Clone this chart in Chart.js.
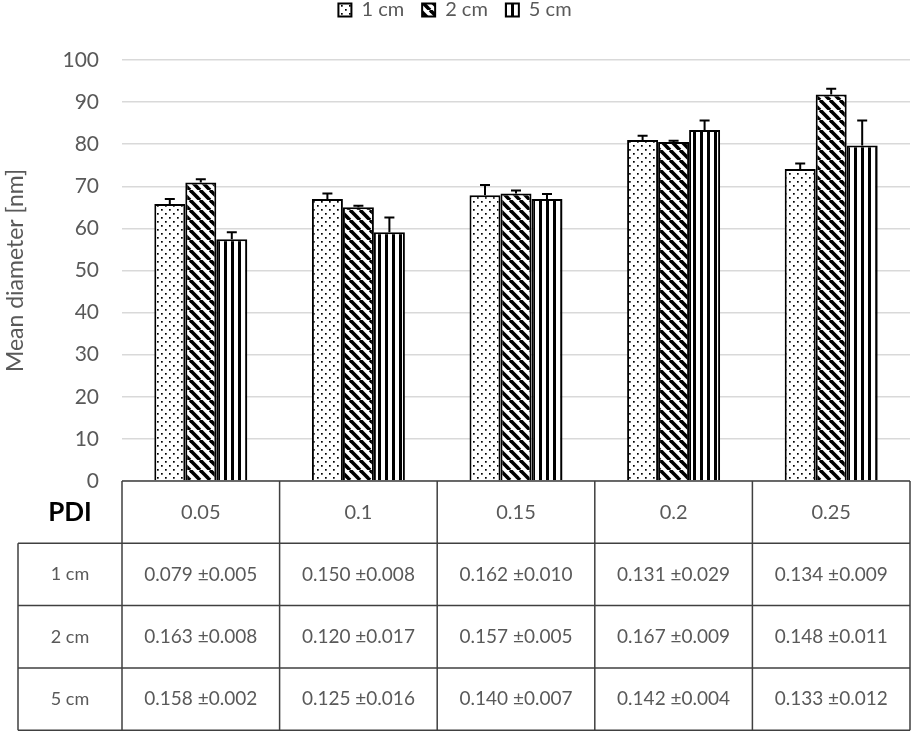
<!DOCTYPE html>
<html lang="en">
<head>
<meta charset="utf-8">
<title>Mean diameter and PDI</title>
<script src="https://cdn.jsdelivr.net/npm/chart.js@4.4.0/dist/chart.umd.min.js"></script>
<style>
    html, body { margin: 0; padding: 0; background: #fff; }
    #wrap { width: 913px; height: 733px; position: relative; }
</style>
</head>
<body>
<div id="wrap"><canvas id="graph"></canvas></div>
<script>
    // PDI values (x categories)
    var categories = ['0.05', '0.1', '0.15', '0.2', '0.25'];
    var seriesNames = ['1 cm', '2 cm', '5 cm'];

    // mean diameter [nm] and upper error
    var mean1 = [65.8, 67.0, 67.9, 81.0, 74.1];
    var err1 = [1.2, 1.3, 2.4, 1.0, 1.3];
    var mean2 = [70.9, 65.0, 68.3, 80.5, 91.8];
    var err2 = [0.8, 0.4, 0.7, 0.3, 1.4];
    var mean3 = [57.4, 59.1, 67.0, 83.4, 79.7];
    var err3 = [1.7, 3.5, 1.2, 2.2, 5.9];

    var yMin = 0, yMax = 100, yStep = 10;

    // table under the chart
    var pdi1 = ['0.079 ±0.005', '0.150 ±0.008', '0.162 ±0.010', '0.131 ±0.029', '0.134 ±0.009'];
    var pdi2 = ['0.163 ±0.008', '0.120 ±0.017', '0.157 ±0.005', '0.167 ±0.009', '0.148 ±0.011'];
    var pdi3 = ['0.158 ±0.002', '0.125 ±0.016', '0.140 ±0.007', '0.142 ±0.004', '0.133 ±0.012'];

    var grey = '#595959';
    var fontName = 'Lato, "Open Sans", sans-serif';

    function makePattern(kind) {
        var c = document.createElement('canvas');
        var g = c.getContext('2d');
        if (kind === 'dots') {
            c.width = 8; c.height = 8;
            g.fillStyle = '#fff'; g.fillRect(0, 0, 8, 8);
            g.fillStyle = '#000';
            g.fillRect(1, 1, 1.7, 1.7);
            g.fillRect(5, 5, 1.7, 1.7);
        } else if (kind === 'diag') {
            c.width = 10; c.height = 10;
            g.fillStyle = '#fff'; g.fillRect(0, 0, 10, 10);
            g.strokeStyle = '#000'; g.lineWidth = 3.6;
            [-10, 0, 10].forEach(function (x0) {
                g.beginPath();
                g.moveTo(x0, 0);
                g.lineTo(x0 + 10, 10);
                g.stroke();
            });
        } else {
            c.width = 7; c.height = 4;
            g.fillStyle = '#fff'; g.fillRect(0, 0, 7, 4);
            g.fillStyle = '#000'; g.fillRect(0, 0, 3, 4);
        }
        return g.createPattern(c, 'repeat');
    }

    var errors = [err1, err2, err3];

    // error bars (upper side only)
    var errorBars = {
        id: 'errorBars',
        afterDatasetsDraw: function (chart) {
            var ctx = chart.ctx;
            var y = chart.scales.y;
            ctx.save();
            ctx.strokeStyle = '#000';
            ctx.lineWidth = 2;
            chart.data.datasets.forEach(function (ds, i) {
                var meta = chart.getDatasetMeta(i);
                meta.data.forEach(function (bar, j) {
                    var yTop = y.getPixelForValue(ds.data[j] + errors[i][j]);
                    ctx.beginPath();
                    ctx.moveTo(bar.x, bar.y);
                    ctx.lineTo(bar.x, yTop);
                    ctx.moveTo(bar.x - 5, yTop);
                    ctx.lineTo(bar.x + 5, yTop);
                    ctx.stroke();
                });
            });
            ctx.restore();
        }
    };

    // data table drawn on the x scale columns
    var pdiTable = {
        id: 'pdiTable',
        afterDraw: function (chart) {
            var ctx = chart.ctx;
            var area = chart.chartArea;
            var xs = chart.scales.x;
            var n = categories.length;
            var colW = (area.right - area.left) / n;
            var rowH = 62.3;
            var top = area.bottom;
            var left = 18;
            var rows = [pdi1, pdi2, pdi3];
            ctx.save();
            ctx.strokeStyle = '#404040';
            ctx.lineWidth = 1.5;
            ctx.beginPath();
            ctx.moveTo(area.left, top);
            ctx.lineTo(area.right, top);
            for (var j = 0; j <= n; j++) {
                var x = area.left + j * colW;
                ctx.moveTo(x, top);
                ctx.lineTo(x, top + 4 * rowH);
            }
            for (var r = 1; r <= 4; r++) {
                ctx.moveTo(left, top + r * rowH);
                ctx.lineTo(area.right, top + r * rowH);
            }
            ctx.moveTo(left, top + rowH);
            ctx.lineTo(left, top + 4 * rowH);
            ctx.stroke();

            ctx.textAlign = 'center';
            ctx.textBaseline = 'middle';
            ctx.fillStyle = '#000';
            ctx.font = 'bold 26px ' + fontName;
            ctx.fillText('PDI', (left + area.left) / 2, top + rowH / 2);

            ctx.fillStyle = grey;
            ctx.font = '20px ' + fontName;
            categories.forEach(function (c, j) {
                ctx.fillText(c, xs.getPixelForValue(j), top + rowH / 2);
            });
            rows.forEach(function (vals, r) {
                var cy = top + (r + 1.5) * rowH;
                ctx.font = '18px ' + fontName;
                ctx.fillText(seriesNames[r], (left + area.left) / 2, cy);
                ctx.font = '19px ' + fontName;
                vals.forEach(function (v, j) {
                    ctx.fillText(v, xs.getPixelForValue(j), cy);
                });
            });
            ctx.restore();
        }
    };

    // pull the legend up to the top edge
    var legendUp = {
        id: 'legendUp',
        afterLayout: function (chart) {
            var lg = chart.legend;
            var dy = lg.top + 18 + 20 / 2 - 10;
            lg.top -= dy;
            lg.bottom -= dy;
        }
    };

    var ctx = document.getElementById('graph').getContext('2d');
    var chart = new Chart(ctx, {
        type: 'bar',
        data: {
            labels: categories,
            datasets: [{
                label: seriesNames[0],
                data: mean1,
                backgroundColor: makePattern('dots'),
                borderColor: '#000',
                borderWidth: 2
            }, {
                label: seriesNames[1],
                data: mean2,
                backgroundColor: makePattern('diag'),
                borderColor: '#000',
                borderWidth: 2
            }, {
                label: seriesNames[2],
                data: mean3,
                backgroundColor: makePattern('vert'),
                borderColor: '#000',
                borderWidth: 2
            }]
        },
        options: {
            responsive: true,
            maintainAspectRatio: false,
            animation: false,
            layout: { padding: { top: 12, right: 3, bottom: 252, left: 0 } },
            datasets: { bar: { categoryPercentage: 0.59, barPercentage: 1 } },
            plugins: {
                tooltip: { enabled: false },
                legend: {
                    position: 'top',
                    labels: {
                        color: grey,
                        font: { family: fontName, size: 20 },
                        boxWidth: 13,
                        boxHeight: 13,
                        padding: 18
                    }
                }
            },
            scales: {
                x: { display: false },
                y: {
                    min: yMin,
                    max: yMax,
                    afterFit: function (scale) { scale.width = 122; },
                    ticks: {
                        stepSize: yStep,
                        padding: 23,
                        color: grey,
                        font: { family: fontName, size: 21 }
                    },
                    grid: { color: '#d9d9d9', lineWidth: 1.5, drawTicks: false },
                    border: { display: false },
                    title: {
                        display: true,
                        text: 'Mean diameter [nm]',
                        color: grey,
                        padding: { top: 2, bottom: 4 },
                        font: { family: fontName, size: 23 }
                    }
                }
            }
        },
        plugins: [errorBars, pdiTable, legendUp]
    });
</script>
</body>
</html>
